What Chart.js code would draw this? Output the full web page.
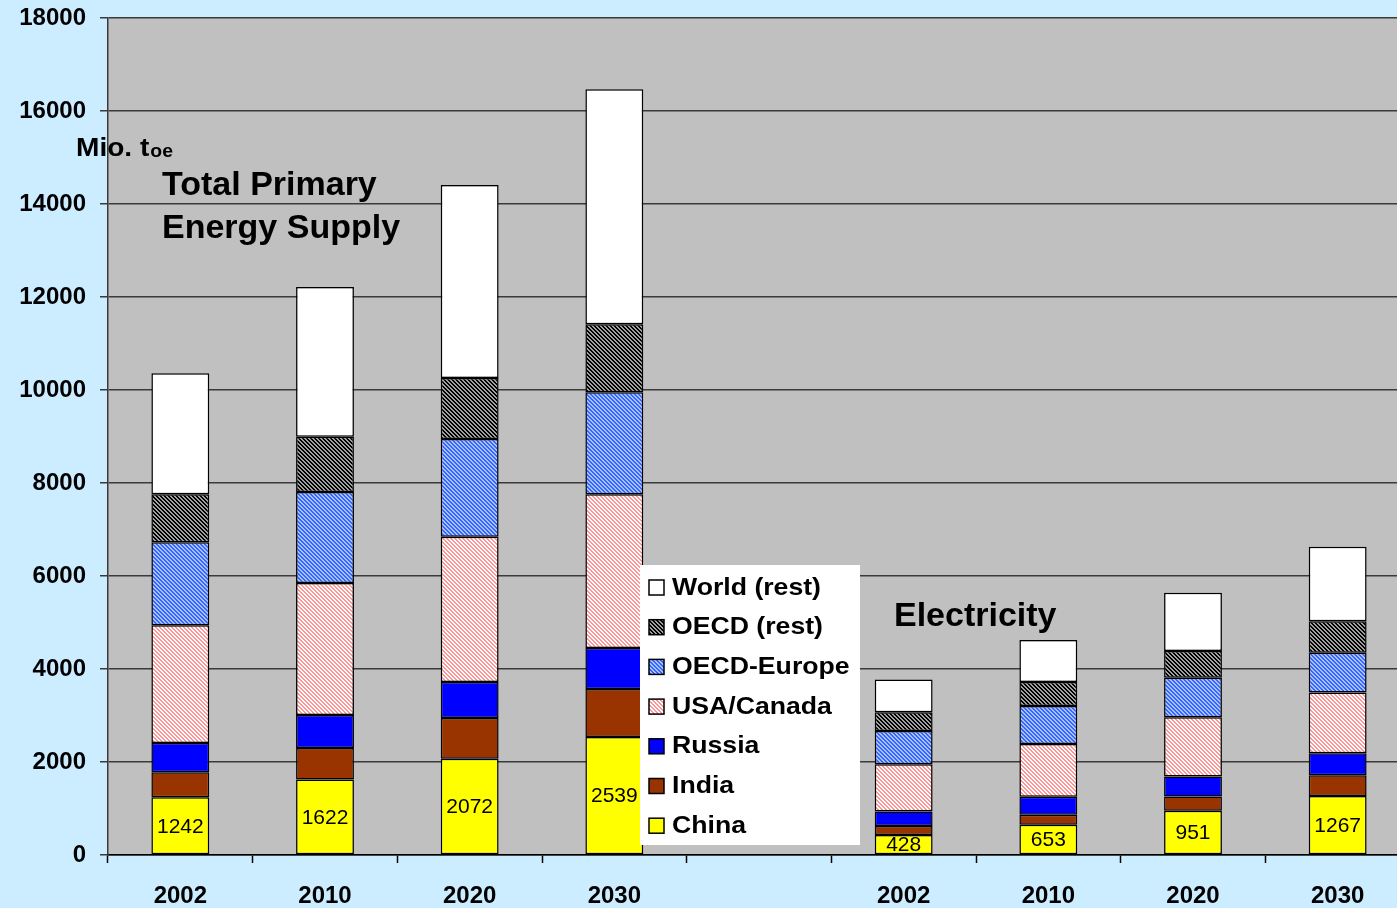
<!DOCTYPE html>
<html>
<head>
<meta charset="utf-8">
<title>Total Primary Energy Supply / Electricity</title>
<script src="https://cdn.jsdelivr.net/npm/chart.js@4"></script>
<style>
  html, body { margin: 0; padding: 0; background: #CCECFF; overflow: hidden; }
  #wrap { width: 1412px; height: 908px; }
</style>
</head>
<body>
<div id="wrap"><canvas id="grafico" width="1412" height="908"></canvas></div>
<script>
// Categorias (a 5ª fica vazia para separar os dois grupos)
const categories = ['2002', '2010', '2020', '2030', '', '2002', '2010', '2020', '2030'];

// Séries em Mio. toe
const china      = [1242, 1622, 2072, 2539, null, 428, 653, 951, 1267];
const india      = [540, 680, 875, 1030, null, 195, 215, 305, 450];
const russia     = [625, 710, 775, 880, null, 315, 385, 430, 470];
const usaCanada  = [2535, 2840, 3120, 3310, null, 1015, 1135, 1275, 1310];
const oecdEurope = [1785, 1955, 2105, 2195, null, 715, 815, 850, 850];
const oecdRest   = [1030, 1185, 1310, 1460, null, 400, 515, 575, 680];
const worldRest  = [2605, 3225, 4150, 5055, null, 705, 905, 1255, 1600];

const yTicks = [0, 2000, 4000, 6000, 8000, 10000, 12000, 14000, 16000, 18000];

const FONT = '"Liberation Sans", Arial, sans-serif';

// Padrão hachurado diagonal (\), período de 4 px
function hatch(base, line) {
    const c = document.createElement('canvas');
    c.width = c.height = 4;
    const g = c.getContext('2d');
    g.fillStyle = base;
    g.fillRect(0, 0, 4, 4);
    g.fillStyle = line;
    for (let x = 0; x < 4; x++) {
        for (let y = 0; y < 4; y++) {
            if ((x - y + 8) % 4 < 2) g.fillRect(x, y, 1, 1);
        }
    }
    return g.createPattern(c, 'repeat');
}

function serie(label, data, fill) {
    return {
        label: label,
        data: data,
        backgroundColor: fill,
        borderColor: '#000',
        borderWidth: 1.5,
        borderSkipped: false,
        barPercentage: 0.4,
        categoryPercentage: 1
    };
}

// Fundo da área do gráfico
const fundo = {
    id: 'fundo',
    beforeDraw(chart) {
        const a = chart.chartArea;
        const ctx = chart.ctx;
        ctx.save();
        ctx.fillStyle = '#C0C0C0';
        ctx.fillRect(a.left, a.top, a.right - a.left, a.bottom - a.top);
        ctx.restore();
    }
};

// Valores da China dentro das barras amarelas
const rotulos = {
    id: 'rotulos',
    afterDatasetsDraw(chart) {
        const ctx = chart.ctx;
        const meta = chart.getDatasetMeta(0);
        ctx.save();
        ctx.font = '21px ' + FONT;
        ctx.fillStyle = '#000';
        ctx.textAlign = 'center';
        ctx.textBaseline = 'middle';
        meta.data.forEach((bar, i) => {
            if (china[i] == null) return;
            ctx.fillText(String(china[i]), bar.x, (bar.y + bar.base) / 2 + 1);
        });
        ctx.restore();
    }
};

// texto um pouco mais largo
function textoLargo(ctx, s, x, y, sx) {
    ctx.save();
    ctx.translate(x, y);
    ctx.scale(sx, 1);
    ctx.fillText(s, 0, 0);
    ctx.restore();
    return ctx.measureText(s).width * sx;
}

// Títulos, unidade e legenda
const textos = {
    id: 'textos',
    afterDraw(chart) {
        const ctx = chart.ctx;
        ctx.save();
        ctx.fillStyle = '#000';
        ctx.textBaseline = 'alphabetic';
        ctx.textAlign = 'left';

        ctx.font = 'bold 26px ' + FONT;
        const w = textoLargo(ctx, 'Mio. t', 76, 156, 1.08);
        ctx.font = 'bold 18px ' + FONT;
        textoLargo(ctx, 'oe', 76 + w + 1, 157, 1.08);

        ctx.font = 'bold 34px ' + FONT;
        ctx.fillText('Total Primary', 162, 195);
        ctx.fillText('Energy Supply', 162, 238);
        ctx.fillText('Electricity', 894, 626);

        // legenda
        const lx = 640, ly = 565;
        ctx.fillStyle = '#FFFFFF';
        ctx.fillRect(lx, ly, 220, 280);
        const itens = chart.data.datasets.slice().reverse();
        ctx.font = 'bold 24px ' + FONT;
        ctx.textBaseline = 'middle';
        itens.forEach((ds, i) => {
            const cy = ly + 22 + i * 39.7;
            ctx.fillStyle = ds.backgroundColor;
            ctx.fillRect(lx + 9, cy - 7, 15, 15);
            ctx.strokeStyle = '#000';
            ctx.lineWidth = 1.5;
            ctx.strokeRect(lx + 9, cy - 7, 15, 15);
            ctx.fillStyle = '#000';
            textoLargo(ctx, ds.label, lx + 32, cy + 1, 1.11);
        });
        ctx.restore();
    }
};

const ctxGrafico = document.getElementById('grafico').getContext('2d');

const grafico = new Chart(ctxGrafico, {
    type: 'bar',
    data: {
        labels: categories,
        datasets: [
            serie('China', china, '#FFFF00'),
            serie('India', india, '#993300'),
            serie('Russia', russia, '#0000FF'),
            serie('USA/Canada', usaCanada, hatch('#FFFFFF', '#FF9494')),
            serie('OECD-Europe', oecdEurope, hatch('#A8C0FF', '#3366FF')),
            serie('OECD (rest)', oecdRest, hatch('#A0A0A0', '#000000')),
            serie('World (rest)', worldRest, '#FFFFFF')
        ]
    },
    options: {
        responsive: false,
        animation: false,
        devicePixelRatio: 1,
        layout: { padding: { top: 18, right: 2, left: 0, bottom: 0 } },
        plugins: {
            legend: { display: false },
            tooltip: { enabled: false }
        },
        scales: {
            x: {
                stacked: true,
                afterFit(s) { s.height = 53; },
                grid: {
                    drawOnChartArea: false,
                    offset: true,
                    tickLength: 8,
                    tickColor: '#000',
                    tickWidth: 1.5
                },
                border: { color: '#000', width: 1.5 },
                ticks: {
                    color: '#000',
                    padding: 19,
                    maxRotation: 0,
                    font: { family: FONT, size: 24, weight: 'bold' }
                }
            },
            y: {
                stacked: true,
                min: 0,
                max: 18000,
                afterFit(s) {
                    s.width = 108;
                    s.paddingTop = 0;
                    s.paddingBottom = 0;
                },
                afterBuildTicks(s) { s.ticks = yTicks.map(v => ({ value: v })); },
                grid: {
                    color: '#3A3A3A',
                    lineWidth: 1.5,
                    tickLength: 8,
                    tickColor: '#3A3A3A'
                },
                border: { color: '#3A3A3A', width: 1.5 },
                ticks: {
                    color: '#000',
                    padding: 14,
                    callback: v => String(v),
                    font: { family: FONT, size: 24, weight: 'bold' }
                }
            }
        }
    },
    plugins: [fundo, rotulos, textos]
});
</script>
</body>
</html>
